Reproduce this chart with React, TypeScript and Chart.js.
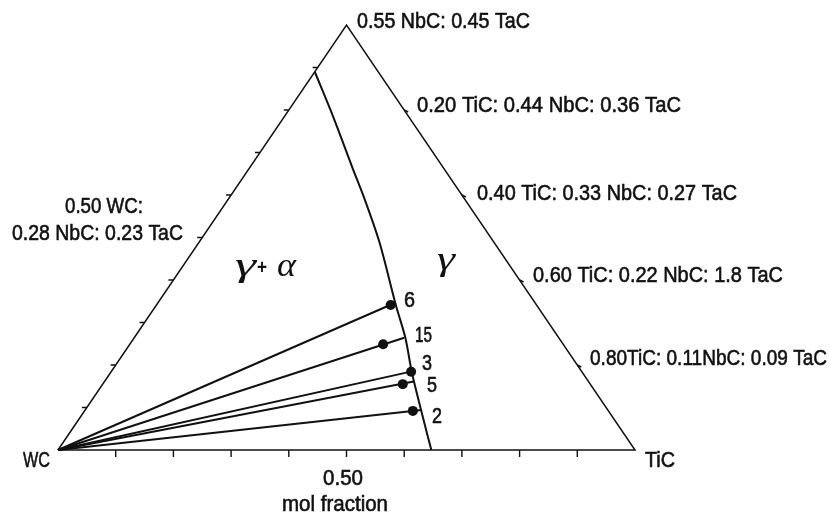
import { useEffect, useRef } from "react";
import { Chart, registerables } from "chart.js";

Chart.register(...registerables);

const W = 829;
const H = 513;

// Ternary composition: "top" = (Nb,Ta)C fraction, "tic" = TiC fraction, WC = remainder
const cornerLabels = ["WC", "TiC", "0.55 NbC: 0.45 TaC"];
const edgeTickFractions = [0.1, 0.2, 0.3, 0.4, 0.5, 0.6, 0.7, 0.8, 0.9];
const rightEdgeTiC = [0.2, 0.4, 0.6, 0.8];
const rightEdgeLabels = [
  "0.20 TiC: 0.44 NbC: 0.36 TaC",
  "0.40 TiC: 0.33 NbC: 0.27 TaC",
  "0.60 TiC: 0.22 NbC: 1.8 TaC",
  "0.80TiC: 0.11NbC: 0.09 TaC",
];
const leftEdgeLabel = ["0.50 WC:", "0.28 NbC: 0.23 TaC"];
const bottomTickLabel = "0.50";
const bottomTitle = "mol fraction";

// γ / γ+α phase boundary
const boundaryTop = [0.89, 0.784, 0.667, 0.588, 0.487, 0.341, 0.264, 0.181, 0.09, 0.0];
const boundaryTiC = [0.0, 0.085, 0.176, 0.238, 0.314, 0.415, 0.47, 0.523, 0.585, 0.647];

// tie lines from WC to the γ boundary
const tieLabels = ["6", "15", "3", "5", "2"];
const tieDotTop = [0.341, 0.249, 0.184, 0.155, 0.092];
const tieDotTiC = [0.406, 0.439, 0.52, 0.52, 0.569];
const tieEndTop = [0.347, 0.264, 0.185, 0.161, 0.094];
const tieEndTiC = [0.412, 0.468, 0.521, 0.536, 0.583];

const regionLabels = ["γ", "+", "α", "γ"];

const toXY = (top: number, tic: number) => ({ x: tic + top / 2, y: top });

// text placement: [left, baseline, width]
const textLayout = {
  apex: [357, 28, 173],
  right: [
    [417, 112, 264],
    [477, 200, 260],
    [533, 282, 250],
    [590, 365, 237],
  ],
  left: [
    [65, 213, 78],
    [12, 240, 171],
  ],
  wc: [23, 467, 27],
  tic: [645, 467, 30],
  half: [323, 485, 40],
  title: [282, 511, 106],
  ties: [
    [404, 307, 11],
    [415, 342, 17],
    [422, 370, 10],
    [427, 392, 10],
    [432, 423, 10],
  ],
};

const SANS = '22px "Liberation Sans", Arial, sans-serif';
const GREEK = 'italic 34px "Liberation Serif", "DejaVu Serif", serif';
const INK = "#111";

function fitText(
  ctx: CanvasRenderingContext2D,
  text: string,
  left: number,
  baseline: number,
  width: number,
  font: string,
  weight = 0.6
) {
  ctx.save();
  ctx.font = font;
  ctx.textAlign = "left";
  ctx.textBaseline = "alphabetic";
  const w = ctx.measureText(text).width || 1;
  ctx.translate(left, baseline);
  ctx.scale(width / w, 1);
  ctx.fillStyle = INK;
  ctx.fillText(text, 0, 0);
  if (weight > 0) {
    ctx.strokeStyle = INK;
    ctx.lineWidth = weight;
    ctx.strokeText(text, 0, 0);
  }
  ctx.restore();
}

const ternaryDecor = {
  id: "ternaryDecor",
  afterDatasetsDraw(chart: any) {
    const ctx: CanvasRenderingContext2D = chart.ctx;
    const xs = chart.scales.x;
    const ys = chart.scales.y;
    const px = (top: number, tic: number) => {
      const p = toXY(top, tic);
      return [xs.getPixelForValue(p.x), ys.getPixelForValue(p.y)];
    };

    ctx.save();
    ctx.strokeStyle = INK;
    ctx.lineWidth = 1.4;
    ctx.beginPath();
    // bottom edge ticks (TiC fraction)
    edgeTickFractions.forEach((f) => {
      const [x, y] = px(0, f);
      ctx.moveTo(x, y);
      ctx.lineTo(x, y + 7);
    });
    // left edge ticks ((Nb,Ta)C fraction)
    edgeTickFractions.forEach((f) => {
      const [x, y] = px(f, 0);
      ctx.moveTo(x, y);
      ctx.lineTo(x - 5, y);
    });
    // right edge ticks
    rightEdgeTiC.forEach((f) => {
      const [x, y] = px(1 - f, f);
      ctx.moveTo(x, y);
      ctx.lineTo(x + 4, y + 2);
    });
    ctx.stroke();
    ctx.restore();

    const L = textLayout;
    fitText(ctx, cornerLabels[2], L.apex[0], L.apex[1], L.apex[2], SANS);
    rightEdgeLabels.forEach((t, i) => {
      const [l, b, w] = L.right[i];
      fitText(ctx, t, l, b, w, SANS);
    });
    leftEdgeLabel.forEach((t, i) => {
      const [l, b, w] = L.left[i];
      fitText(ctx, t, l, b, w, SANS);
    });
    fitText(ctx, cornerLabels[0], L.wc[0], L.wc[1], L.wc[2], SANS);
    fitText(ctx, cornerLabels[1], L.tic[0], L.tic[1], L.tic[2], SANS);
    fitText(ctx, bottomTickLabel, L.half[0], L.half[1], L.half[2], SANS);
    fitText(ctx, bottomTitle, L.title[0], L.title[1], L.title[2], SANS);
    tieLabels.forEach((t, i) => {
      const [l, b, w] = L.ties[i];
      fitText(ctx, t, l, b, w, SANS);
    });

    // phase-field labels
    fitText(ctx, regionLabels[0], 235, 276, 21, GREEK, 0);
    fitText(ctx, regionLabels[1], 257, 274, 10, 'bold 20px "Liberation Sans", sans-serif', 0);
    fitText(ctx, regionLabels[2], 277, 276, 19, GREEK, 0);
    fitText(ctx, regionLabels[3], 437, 270, 18, GREEK, 0);
  },
};

export default function App() {
  const ref = useRef<HTMLCanvasElement | null>(null);

  useEffect(() => {
    if (!ref.current) return;

    const outline = [toXY(0, 0), toXY(0, 1), toXY(1, 0), toXY(0, 0)];
    const boundary = boundaryTop.map((t, i) => toXY(t, boundaryTiC[i]));
    const ties = tieLabels.map((lab, i) => ({
      label: "tie " + lab,
      data: [toXY(0, 0), toXY(tieEndTop[i], tieEndTiC[i])],
      showLine: true,
      borderColor: INK,
      borderWidth: 2,
      pointRadius: 0,
      clip: false as any,
    }));
    const dots = tieDotTop.map((t, i) => toXY(t, tieDotTiC[i]));

    const chart = new Chart(ref.current, {
      type: "scatter",
      data: {
        datasets: [
          {
            label: "outline",
            data: outline,
            showLine: true,
            borderColor: INK,
            borderWidth: 1.5,
            pointRadius: 0,
            clip: false as any,
          },
          {
            label: "boundary",
            data: boundary,
            showLine: true,
            borderColor: INK,
            borderWidth: 2,
            pointRadius: 0,
            tension: 0.3,
            clip: false as any,
          },
          ...ties,
          {
            label: "alloys",
            data: dots,
            showLine: false,
            pointRadius: 5,
            pointBackgroundColor: INK,
            pointBorderColor: INK,
            pointBorderWidth: 0,
            clip: false as any,
          },
        ],
      },
      options: {
        responsive: false,
        maintainAspectRatio: false,
        animation: false,
        devicePixelRatio: 1,
        layout: { padding: { left: 58, right: 194, top: 25, bottom: 63 } },
        plugins: { legend: { display: false }, tooltip: { enabled: false } },
        scales: {
          x: { type: "linear", min: 0, max: 1, display: false },
          y: { type: "linear", min: 0, max: 1, display: false },
        },
      },
      plugins: [ternaryDecor],
    });

    return () => chart.destroy();
  }, []);

  return (
    <div style={{ position: "absolute", left: 0, top: 0, width: W, height: H, background: "#fff" }}>
      <canvas ref={ref} width={W} height={H} style={{ width: W, height: H, display: "block" }} />
    </div>
  );
}
